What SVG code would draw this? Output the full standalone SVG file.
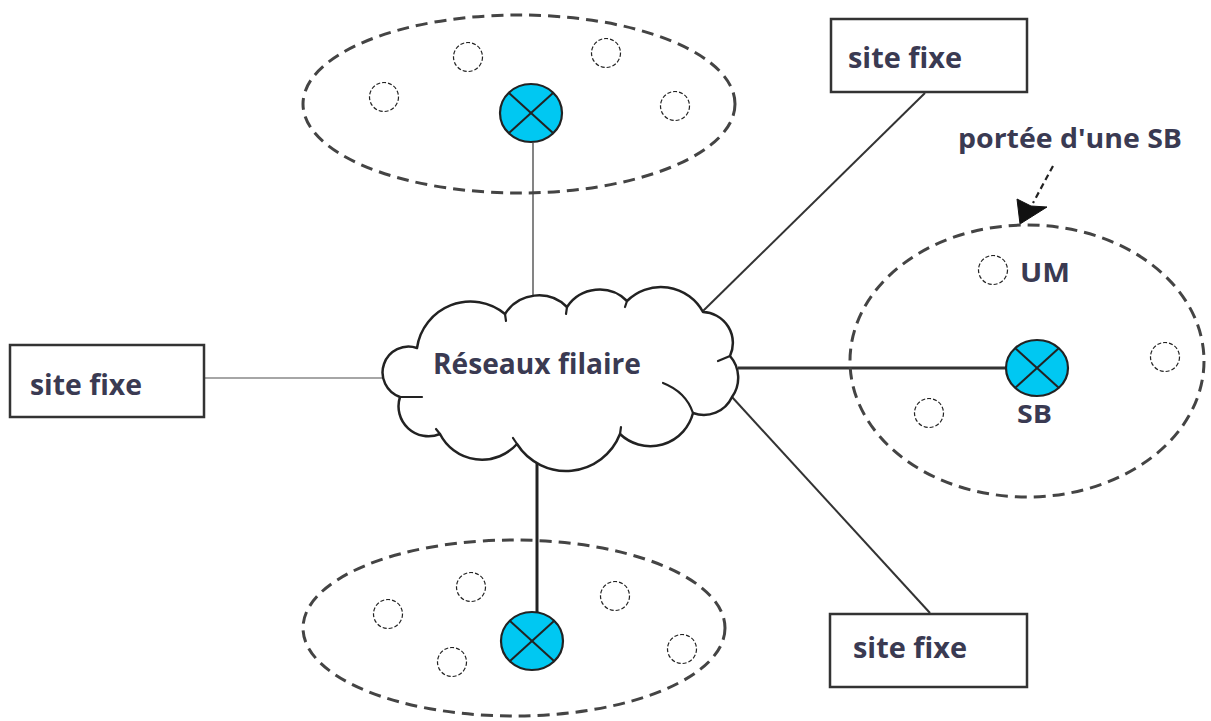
<svg xmlns="http://www.w3.org/2000/svg" width="1211" height="721" viewBox="0 0 1211 721">
  <style>
    .label { font-family: "Open Sans", "Liberation Sans", sans-serif; font-weight: bold; fill: #3a3a52; }
    .box { fill: #ffffff; stroke: #333333; stroke-width: 2.5; }
    .cell { fill: none; stroke: #444444; stroke-width: 3; stroke-dasharray: 12 7; }
    .ue { fill: #ffffff; stroke: #222222; stroke-width: 1.2; stroke-dasharray: 4 2; }
    .bs { fill: #00c8f2; stroke: #222222; stroke-width: 2.2; }
    .cross { stroke: #222222; stroke-width: 2; }
    .cloud { fill: #ffffff; stroke: #222222; stroke-width: 2.5; stroke-linejoin: round; }
  </style>
  <rect width="1211" height="721" fill="#ffffff"/>

  <!-- connectors -->
  <g id="connectors" fill="none">
    <line x1="533" y1="143" x2="533" y2="296" stroke="#777777" stroke-width="1.8"/>
    <line x1="205" y1="378" x2="388" y2="378" stroke="#888888" stroke-width="1.6"/>
    <line x1="703" y1="311" x2="925" y2="93" stroke="#333333" stroke-width="2"/>
    <line x1="738" y1="368" x2="1007" y2="368" stroke="#333333" stroke-width="3"/>
    <line x1="732" y1="397" x2="930" y2="613" stroke="#333333" stroke-width="2"/>
    <line x1="537" y1="462" x2="537" y2="613" stroke="#222222" stroke-width="3"/>
    <line x1="1053" y1="166" x2="1033" y2="203" stroke="#222222" stroke-width="2.2" stroke-dasharray="6 4"/>
    <path d="M1020,224 L1017,199 L1031,206 L1047,207 Z" fill="#111111" stroke="#111111" stroke-width="1" stroke-linejoin="round"/>
  </g>

  <!-- top cell -->
  <g id="cell-top">
    <ellipse class="cell" cx="519" cy="104" rx="216" ry="89"/>
    <circle class="ue" cx="384" cy="97" r="14.5"/>
    <circle class="ue" cx="468" cy="57" r="14.5"/>
    <circle class="ue" cx="606" cy="53" r="14.5"/>
    <circle class="ue" cx="675" cy="106" r="14.5"/>
  </g>
  <g id="bs-top">
    <ellipse class="bs" cx="531" cy="113" rx="31" ry="29"/>
    <line class="cross" x1="509" y1="93" x2="553" y2="133"/>
    <line class="cross" x1="553" y1="93" x2="509" y2="133"/>
  </g>

  <!-- bottom cell -->
  <g id="cell-bottom">
    <ellipse class="cell" cx="514" cy="628" rx="211" ry="88"/>
    <circle class="ue" cx="388" cy="614" r="14.5"/>
    <circle class="ue" cx="471" cy="587" r="14.5"/>
    <circle class="ue" cx="452" cy="662" r="14.5"/>
    <circle class="ue" cx="615" cy="596" r="14.5"/>
    <circle class="ue" cx="682" cy="649" r="14.5"/>
  </g>
  <g id="bs-bottom">
    <ellipse class="bs" cx="532" cy="641" rx="31" ry="29"/>
    <line class="cross" x1="510" y1="621" x2="554" y2="661"/>
    <line class="cross" x1="554" y1="621" x2="510" y2="661"/>
  </g>

  <!-- right cell -->
  <g id="cell-right">
    <ellipse class="cell" cx="1027" cy="361" rx="177" ry="136" stroke-width="2.5" stroke-dasharray="10 6"/>
    <circle class="ue" cx="993" cy="270" r="14.5"/>
    <circle class="ue" cx="1165" cy="357" r="14.5"/>
    <circle class="ue" cx="929" cy="413" r="14.5"/>
    <text class="label" x="1020" y="282" font-size="26" textLength="50" lengthAdjust="spacingAndGlyphs">UM</text>
  </g>
  <g id="bs-right">
    <ellipse class="bs" cx="1037" cy="368" rx="31" ry="28"/>
    <line class="cross" x1="1015" y1="348" x2="1059" y2="388"/>
    <line class="cross" x1="1059" y1="348" x2="1015" y2="388"/>
    <text class="label" x="1017" y="423" font-size="25" textLength="35" lengthAdjust="spacingAndGlyphs">SB</text>
  </g>

  <g id="range-label">
    <text class="label" x="958" y="148" font-size="26" textLength="224" lengthAdjust="spacingAndGlyphs">portée d'une SB</text>
  </g>

  <!-- wired network cloud -->
  <g id="cloud">
    <path class="cloud" d="M400,397 A25,25 0 0 1 417,348 A54,54 0 0 1 505,314 A40,40 0 0 1 567,307 A39,39 0 0 1 627,301 A48,48 0 0 1 703,312 A31,31 0 0 1 730,356 A33,33 0 0 1 732,397 A31,31 0 0 1 693,413 A44,44 0 0 1 620,434 A58,58 0 0 1 517,444 A47,47 0 0 1 440,434 A30,30 0 0 1 400,397 Z"/>
    <g fill="none" stroke="#222222" stroke-width="2.2" stroke-linecap="round">
      <path d="M663,383 Q686,392 693,413"/>
      <line x1="400" y1="397" x2="422" y2="397"/>
      <line x1="730" y1="356" x2="718" y2="361"/>
      <line x1="505" y1="314" x2="506" y2="321"/>
      <line x1="567" y1="307" x2="566" y2="314"/>
      <line x1="627" y1="301" x2="625" y2="307"/>
      <line x1="517" y1="444" x2="513" y2="438"/>
      <line x1="440" y1="434" x2="436" y2="429"/>
      <line x1="620" y1="434" x2="621" y2="427"/>
    </g>
    <text class="label" x="433" y="374" font-size="28" textLength="208" lengthAdjust="spacingAndGlyphs">Réseaux filaire</text>
  </g>

  <!-- fixed sites -->
  <g id="site-left">
    <rect class="box" x="10" y="345" width="194" height="72"/>
    <text class="label" x="30" y="395" font-size="29" textLength="112" lengthAdjust="spacingAndGlyphs">site fixe</text>
  </g>
  <g id="site-top-right">
    <rect class="box" x="831" y="19" width="196" height="73"/>
    <text class="label" x="848" y="68" font-size="29" textLength="114" lengthAdjust="spacingAndGlyphs">site fixe</text>
  </g>
  <g id="site-bottom-right">
    <rect class="box" x="830" y="614" width="197" height="73"/>
    <text class="label" x="853" y="658" font-size="29" textLength="114" lengthAdjust="spacingAndGlyphs">site fixe</text>
  </g>
</svg>
